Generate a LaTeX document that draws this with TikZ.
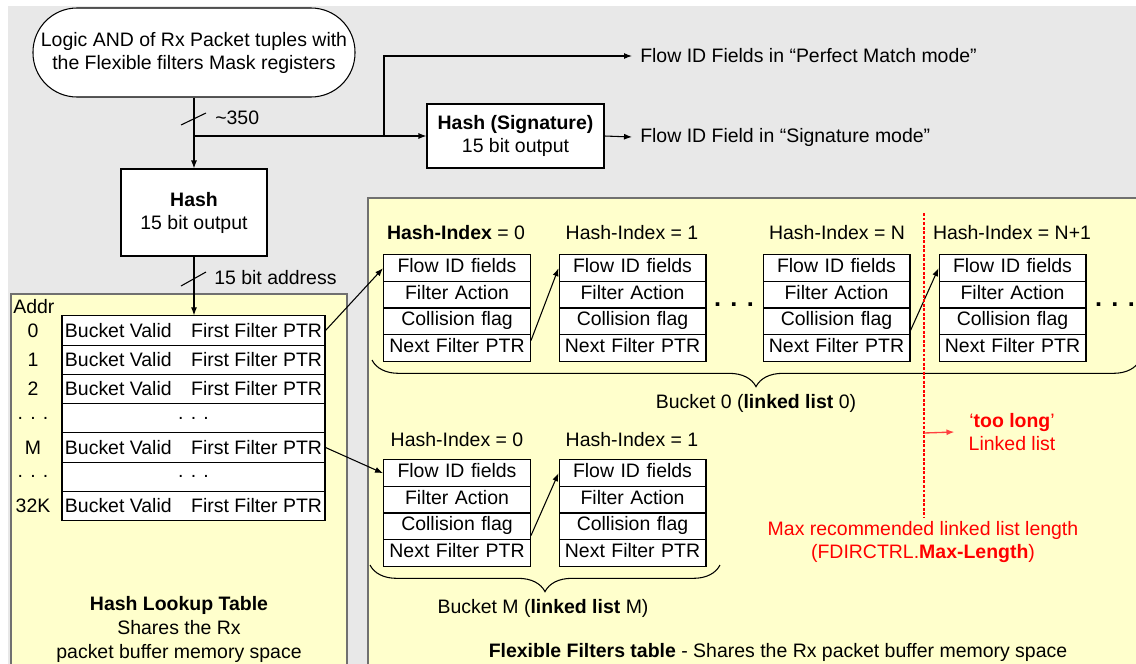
\documentclass[tikz,border=0pt]{standalone}
\usepackage{fontspec}
\setmainfont{Liberation Sans}
\usetikzlibrary{arrows.meta,shapes.multipart,decorations.pathreplacing,calc}
\definecolor{bggray}{HTML}{E8E8E8}
\definecolor{paleyellow}{HTML}{FFFFCC}
\definecolor{panelborder}{HTML}{707070}
\definecolor{alertred}{HTML}{FF0000}
\definecolor{arrowred}{HTML}{FF4040}

\begin{document}
\begin{tikzpicture}[x=0.75pt,y=0.75pt,yscale=-1,xscale=1,
  every node/.style={font=\fontsize{14.6}{17.2}\selectfont},
  flowbox/.style={draw,fill=white,line width=0.8pt,align=center,inner sep=0pt},
  tblrow/.style={draw,fill=white,line width=0.8pt,minimum width=197.25pt,minimum height=21.94pt,inner sep=0pt},
  fltstack/.style={draw,fill=white,line width=0.8pt,rectangle split,rectangle split parts=4,text width=104pt,align=center,inner xsep=3.1pt,inner ysep=0.95pt},
  txt/.style={inner sep=0.75pt,align=center},
  link/.style={line width=0.8pt,-{Latex[length=6pt,width=4.5pt]}},
  redlink/.style={arrowred,line width=1pt,-{Latex[length=6pt,width=4.5pt]}},
  limitline/.style={alertred,line width=2pt,dash pattern=on 2.2pt off 1.2pt}]
\useasboundingbox (0,0) rectangle (1136,664);

%Background
\fill[bggray] (8,6) rectangle (1136,664);
\draw[panelborder,fill=paleyellow,line width=0.8pt] (11,294) rectangle (347,668);
\draw[panelborder,fill=paleyellow,line width=0.8pt] (368,198) rectangle (1140,668);

%Flowchart: Terminator
\draw (194,52.5) node (tuples) [flowbox,rounded corners=33pt,minimum width=241.5pt,minimum height=66.75pt] {Logic AND of Rx Packet tuples with\\the Flexible filters Mask registers};
%Flowchart: Process
\draw (194,212.5) node (hash) [flowbox,minimum width=109.5pt,minimum height=65.25pt] {\textbf{Hash}\\15 bit output};
%Flowchart: Process
\draw (515.5,136) node (sig) [flowbox,minimum width=132.75pt,minimum height=48pt] {\textbf{Hash (Signature)}\\15 bit output};

% Text Node
\draw (632,56) node (perfect) [txt,anchor=west,inner xsep=6pt] {Flow ID Fields in “Perfect Match mode”};
% Text Node
\draw (632,137) node (sigmode) [txt,anchor=west,inner xsep=6pt] {Flow ID Field in “Signature mode”};

%Straight Lines
\coordinate (split) at (194,136);
\coordinate (fork) at (384,136);
\coordinate (corner) at (384,56);
\draw[link] (tuples.south) -- (hash.north);
\draw[line width=0.8pt] (split) -- (fork);
\draw[link] (fork) -- (sig.west);
\draw[link] (fork) -- (corner) -- (perfect.west);
\draw[link] (sig.east) -- (sigmode.west);

%Bus width marks
\draw[line width=0.8pt] (181,125) -- (206,113);
\draw (214,118) node [txt,anchor=west] {\textasciitilde350};
\draw[line width=0.8pt] (181,286) -- (206,272);
\draw (213,278) node [txt,anchor=west] {15 bit address};

%Hash lookup table rows
\draw (193.5,330.5) node (row0) [tblrow] {Bucket Valid\quad First Filter PTR};
\draw (193.5,359.75) node (row1) [tblrow] {Bucket Valid\quad First Filter PTR};
\draw (193.5,389) node (row2) [tblrow] {Bucket Valid\quad First Filter PTR};
\draw (193.5,418.25) node (rowgap) [tblrow] {. . .};
\draw (193.5,447.5) node (rowM) [tblrow] {Bucket Valid\quad First Filter PTR};
\draw (193.5,476.75) node (rowgapb) [tblrow] {. . .};
\draw (193.5,506) node (rowlast) [tblrow] {Bucket Valid\quad First Filter PTR};
\draw[link] (hash.south) -- (hash.south |- row0.north);

% Text Node
\draw (12,307) node [txt,anchor=west] {Addr};
\draw (33,330.5) node [txt] {0};
\draw (33,359.75) node [txt] {1};
\draw (33,389) node [txt] {2};
\draw (33,418.25) node [txt] {. . .};
\draw (33,447.5) node [txt] {M};
\draw (33,476.75) node [txt] {. . .};
\draw (33,506) node [txt] {32K};
\draw (179,629) node [txt,font=\fontsize{14.6}{18}\selectfont] {\textbf{Hash Lookup Table}\\Shares the Rx\\packet buffer memory space};

%Bucket 0 filters
\draw (456,233) node [txt] {\textbf{Hash-Index} = 0};
\draw (632,233) node [txt] {Hash-Index = 1};
\draw (837,233) node [txt] {Hash-Index = N};
\draw (1012,233) node [txt] {Hash-Index = N+1};
\draw (457,308) node (zeroa) [fltstack] {\strut Flow ID fields\nodepart{two}\strut Filter Action\nodepart{three}\strut Collision flag\nodepart{four}\strut Next Filter PTR};
\draw (632.5,308) node (zerob) [fltstack] {\strut Flow ID fields\nodepart{two}\strut Filter Action\nodepart{three}\strut Collision flag\nodepart{four}\strut Next Filter PTR};
\draw (836.5,308) node (zeron) [fltstack] {\strut Flow ID fields\nodepart{two}\strut Filter Action\nodepart{three}\strut Collision flag\nodepart{four}\strut Next Filter PTR};
\draw (1012.5,308) node (zeronn) [fltstack] {\strut Flow ID fields\nodepart{two}\strut Filter Action\nodepart{three}\strut Collision flag\nodepart{four}\strut Next Filter PTR};
\draw (734,305) node [txt,font=\fontsize{19}{20}\selectfont\bfseries] {. . .};
\draw (1115,305) node [txt,font=\fontsize{19}{20}\selectfont\bfseries] {. . .};
\draw[link] (row0.east) -- (zeroa.text west);
\draw[link] ($(zeroa.three split east)+(0,6)$) -- (zerob.text west);
\draw[link] ($(zeron.three split east)+(0,-4)$) -- (zeronn.text west);
\draw[line width=0.8pt,decorate,decoration={brace,mirror,amplitude=20pt}] (372,360) -- (1140,360);
\draw (756,403) node [txt] {Bucket 0 (\textbf{linked list} 0)};

%Bucket M filters
\draw (457,440) node [txt] {Hash-Index = 0};
\draw (632,440) node [txt] {Hash-Index = 1};
\draw (457,513) node (ma) [fltstack] {\strut Flow ID fields\nodepart{two}\strut Filter Action\nodepart{three}\strut Collision flag\nodepart{four}\strut Next Filter PTR};
\draw (632.5,513) node (mb) [fltstack] {\strut Flow ID fields\nodepart{two}\strut Filter Action\nodepart{three}\strut Collision flag\nodepart{four}\strut Next Filter PTR};
\draw[link] (rowM.east) -- (ma.text west);
\draw[link] ($(ma.three split east)+(0,-4)$) -- (mb.text west);
\draw[line width=0.8pt,decorate,decoration={brace,mirror,amplitude=20pt}] (370,565) -- (720,565);
\draw (543,608) node [txt] {Bucket M (\textbf{linked list} M)};

%Max length marker
\coordinate (limtop) at (924,213);
\coordinate (limbot) at (924,518);
\coordinate (limmid) at (924,433);
\draw[limitline] (limtop) -- (limbot);
\draw (1012,432) node (toolong) [txt,text=alertred,inner xsep=10.5pt] {‘\textbf{too long}’\\Linked list};
\draw[redlink] (limmid) -- (toolong.west);
\draw (923,542) node [txt,text=alertred] {Max recommended linked list length\\(FDIRCTRL.\textbf{Max-Length})};

% Text Node
\draw (778,652) node [txt] {\textbf{Flexible Filters table} - Shares the Rx packet buffer memory space};

\end{tikzpicture}
\end{document}
